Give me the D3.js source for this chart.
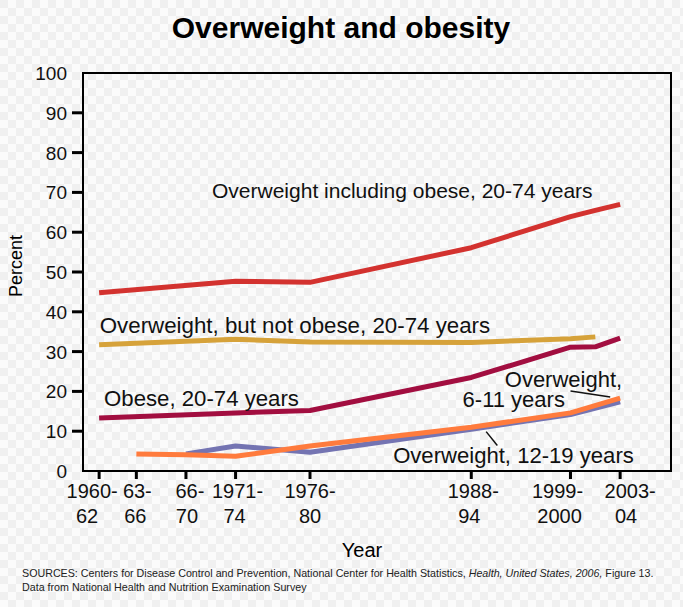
<!DOCTYPE html>
<meta charset="UTF-8">
<style>
	body { margin: 0; background: #f8f8f8; }
	svg { display: block; font-family: "Liberation Sans", Arial, sans-serif; }
	.tick-label { font-size: 20px; fill: #111; }
	.series-label { fill: #111; }
	.line { fill: none; stroke-width: 5px; stroke-linejoin: round; }
</style>
<body>
	<script src="https://d3js.org/d3.v7.min.js"></script>
	<script>

		// survey periods on the x axis (position = year, two-line label)
		const periodYears = [1961, 1964, 1968, 1972, 1978, 1991, 1999, 2003];
		const periodTop = ["1960-", "63-", "66-", "1971-", "1976-", "1988-", "1999-", "2003-"];
		const periodBottom = ["62", "66", "70", "74", "80", "94", "2000", "04"];
		const yTicks = [0, 10, 20, 30, 40, 50, 60, 70, 80, 90, 100];

		// series, values (percent)
		const overweightYears = [1961, 1972, 1978, 1991, 1999, 2001, 2003];
		const overweightValues = [44.8, 47.7, 47.4, 56.1, 63.9, 65.5, 67.0];

		const notObeseYears = [1961, 1972, 1978, 1991, 1999, 2001];
		const notObeseValues = [31.7, 33.1, 32.4, 32.3, 33.2, 33.7];

		const obeseYears = [1961, 1972, 1978, 1991, 1999, 2001, 2003];
		const obeseValues = [13.3, 14.6, 15.2, 23.5, 31.1, 31.2, 33.4];

		const teenYears = [1968, 1972, 1978, 1991, 1999, 2003];
		const teenValues = [4.3, 6.3, 4.7, 10.5, 14.2, 17.4];

		const childYears = [1964, 1968, 1972, 1978, 1991, 1999, 2003];
		const childValues = [4.3, 4.1, 3.7, 6.3, 11.0, 14.6, 18.3];

		const series = [
			{ name: "teen", years: teenYears, values: teenValues, color: "#7474b2" },
			{ name: "child", years: childYears, values: childValues, color: "#ff7b3d" },
			{ name: "notObese", years: notObeseYears, values: notObeseValues, color: "#d6a23a" },
			{ name: "overweight", years: overweightYears, values: overweightValues, color: "#d3322f" },
			{ name: "obese", years: obeseYears, values: obeseValues, color: "#a20e40" },
		];

		// tick labels in the original are hand placed, nudges in px
		const topNudge = [-7, 1, 4, 2, 0, 2, -13, 10];
		const bottomNudge = [-12, -1, 1, -1, 0, -2, -11, 6];

		// annotation anchors in data units [year, percent]
		const labels = [
			{ text: "Overweight including obese, 20-74 years", at: [1970.1, 68.6], size: 21 },
			{ text: "Overweight, but not obese, 20-74 years", at: [1961.05, 34.6], size: 22.3 },
			{ text: "Obese, 20-74 years", at: [1961.4, 16.3], size: 22.2 },
			{ text: "Overweight,", at: [1993.7, 21.1], size: 22 },
			{ text: "6-11 years", at: [1990.3, 16.2], size: 22 },
			{ text: "Overweight, 12-19 years", at: [1984.7, 1.95], size: 22.1 },
		];
		const leaders = [
			[[1999.0, 20.1], [2002.2, 18.6]],
			[[1992.2, 9.9], [1993.1, 6.4]],
		];

		const W = 683, H = 607;
		const frame = { left: 83, right: 671, top: 73, bottom: 471 };

		const svg = d3.select("body").append("svg")
			.attr("width", W)
			.attr("height", H);

		// faint checker background
		const defs = svg.append("defs");
		const pat = defs.append("pattern")
			.attr("id", "checker")
			.attr("width", 16).attr("height", 16)
			.attr("patternUnits", "userSpaceOnUse");
		pat.append("rect").attr("width", 16).attr("height", 16).attr("fill", "#fbfbfb");
		pat.append("rect").attr("width", 8).attr("height", 8).attr("fill", "#f0f0f0");
		pat.append("rect").attr("x", 8).attr("y", 8).attr("width", 8).attr("height", 8).attr("fill", "#f0f0f0");
		svg.append("rect").attr("width", W).attr("height", H).attr("fill", "url(#checker)");

		const x = d3.scaleLinear().domain([1959.7, 2007.1]).range([frame.left, frame.right]);
		const y = d3.scaleLinear().domain([0, 100]).range([frame.bottom, frame.top]);

		// title
		svg.append("text")
			.attr("x", 341)
			.attr("y", 38)
			.attr("text-anchor", "middle")
			.style("font-size", "30px")
			.style("font-weight", "bold")
			.text("Overweight and obesity");

		// y axis ticks + labels
		const yAxis = svg.append("g");
		yAxis.selectAll("line")
			.data(yTicks.filter(d => d > 0 && d < 100))
			.join("line")
			.attr("x1", frame.left - 11).attr("x2", frame.left)
			.attr("y1", d => y(d)).attr("y2", d => y(d))
			.attr("stroke", "#000").attr("stroke-width", 3);
		yAxis.selectAll("text")
			.data(yTicks)
			.join("text")
			.attr("class", "tick-label")
			.style("font-size", "19px")
			.attr("x", frame.left - 16)
			.attr("y", d => y(d) + 7)
			.attr("text-anchor", "end")
			.text(d => d);

		// x axis ticks + two-line labels
		const xAxis = svg.append("g");
		xAxis.selectAll("line")
			.data(periodYears)
			.join("line")
			.attr("x1", d => x(d)).attr("x2", d => x(d))
			.attr("y1", frame.bottom).attr("y2", frame.bottom + 8)
			.attr("stroke", "#000").attr("stroke-width", 3);
		const xl = xAxis.selectAll("text")
			.data(periodYears)
			.join("text")
			.attr("class", "tick-label")
			.attr("text-anchor", "middle");
		xl.append("tspan")
			.attr("x", (d, i) => x(d) + topNudge[i]).attr("y", frame.bottom + 27)
			.text((d, i) => periodTop[i]);
		xl.append("tspan")
			.attr("x", (d, i) => x(d) + bottomNudge[i]).attr("y", frame.bottom + 52)
			.text((d, i) => periodBottom[i]);

		// lines
		const line = d3.line()
			.x(d => x(d[0]))
			.y(d => y(d[1]));
		svg.append("g").selectAll("path")
			.data(series)
			.join("path")
			.attr("class", "line")
			.attr("stroke", d => d.color)
			.attr("d", d => line(d.years.map((yr, i) => [yr, d.values[i]])));

		// frame
		svg.append("rect")
			.attr("x", frame.left).attr("y", frame.top)
			.attr("width", frame.right - frame.left)
			.attr("height", frame.bottom - frame.top)
			.attr("fill", "none")
			.attr("stroke", "#000")
			.attr("stroke-width", 2);

		// annotations
		svg.append("g").selectAll("text")
			.data(labels)
			.join("text")
			.attr("class", "series-label")
			.attr("x", d => x(d.at[0]))
			.attr("y", d => y(d.at[1]))
			.style("font-size", d => d.size + "px")
			.text(d => d.text);
		svg.append("g").selectAll("line")
			.data(leaders)
			.join("line")
			.attr("x1", d => x(d[0][0])).attr("y1", d => y(d[0][1]))
			.attr("x2", d => x(d[1][0])).attr("y2", d => y(d[1][1]))
			.attr("stroke", "#111").attr("stroke-width", 1.5);

		// axis titles
		svg.append("text")
			.attr("transform", "translate(22, 266) rotate(-90)")
			.attr("text-anchor", "middle")
			.style("font-size", "18px")
			.text("Percent");
		svg.append("text")
			.attr("x", 362)
			.attr("y", 557)
			.attr("text-anchor", "middle")
			.style("font-size", "20px")
			.text("Year");

		// sources
		const src = svg.append("text")
			.attr("x", 22)
			.attr("y", 577)
			.style("font-size", "10.7px")
			.style("fill", "#222");
		src.append("tspan").text("SOURCES: Centers for Disease Control and Prevention, National Center for Health Statistics, ");
		src.append("tspan").style("font-style", "italic").text("Health, United States, 2006,");
		src.append("tspan").text(" Figure 13.");
		svg.append("text")
			.attr("x", 22)
			.attr("y", 591)
			.style("font-size", "10.7px")
			.style("fill", "#222")
			.text("Data from National Health and Nutrition Examination Survey");

	</script>
</body>
